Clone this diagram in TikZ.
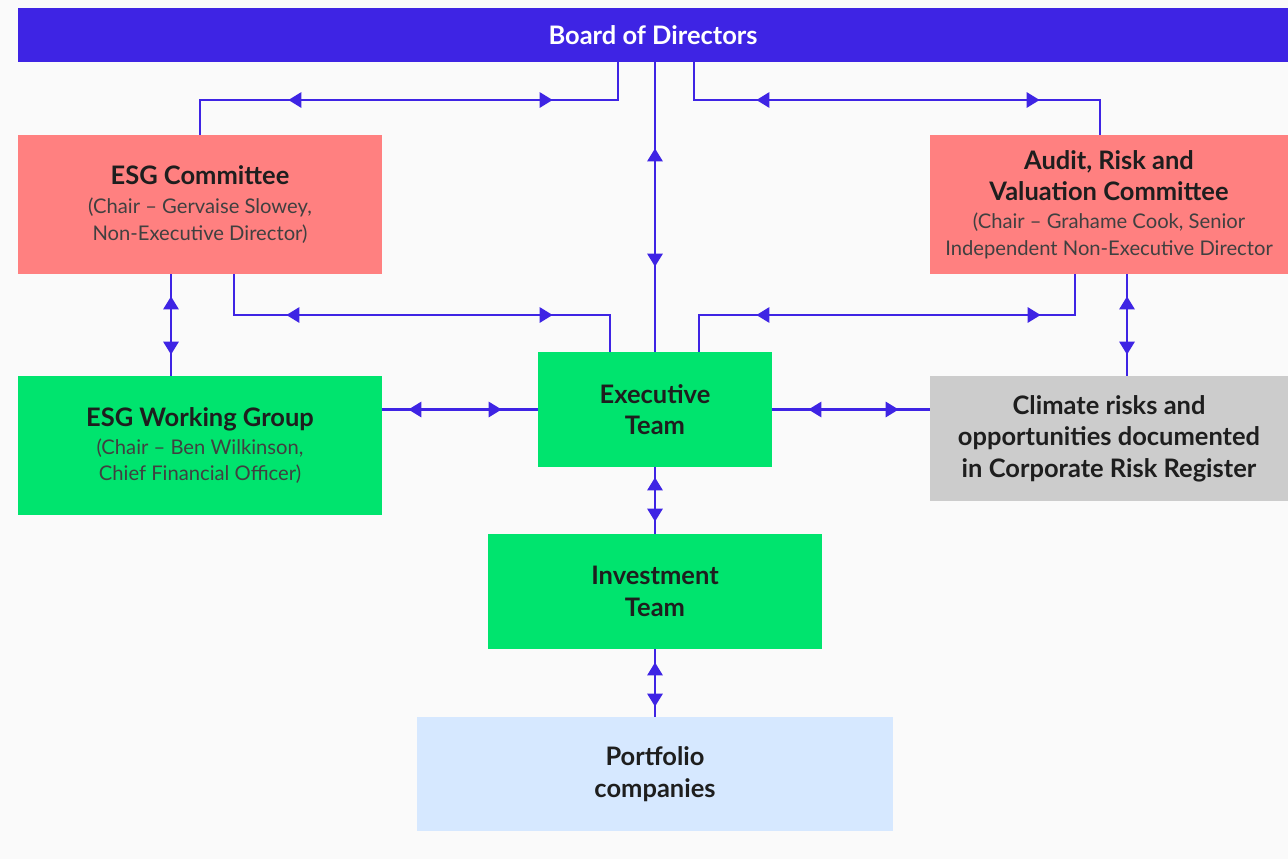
\documentclass[tikz,border=0pt]{standalone}
\usepackage{fontspec}
\setmainfont{Lato}
\usetikzlibrary{arrows.meta,decorations.markings}

\definecolor{boardblue}{RGB}{62,36,228}
\definecolor{salmon}{RGB}{255,128,128}
\definecolor{teamgreen}{RGB}{0,228,110}
\definecolor{riskgray}{RGB}{204,204,204}
\definecolor{paleblue}{RGB}{214,232,255}
\definecolor{pagebg}{RGB}{250,250,250}
\definecolor{inkdark}{RGB}{30,30,30}

\newcommand{\hd}{\fontsize{14.5}{18}\selectfont\bfseries}
\newcommand{\sub}{\fontsize{11.5}{15.3}\selectfont\mdseries\color{inkdark!85}}

\tikzset{box/.style={rectangle,inner sep=0pt,align=center,text=inkdark,font=\hd},
         link/.style 2 args={draw=boardblue,line width=1.6pt,postaction={decorate},
           decoration={markings,
             mark=at position #1 with {\arrowreversed{Triangle[length=0.26cm,width=0.3cm]}},
             mark=at position -#2 with {\arrow{Triangle[length=0.26cm,width=0.3cm]}}}}}

\begin{document}
\begin{tikzpicture}[x=0.02cm,y=-0.02cm]
        % page with the reference margins
        \fill[pagebg] (0,0) rectangle (1288,859);
        \useasboundingbox (0,0) rectangle (1288,859);

        \node[box,fill=boardblue,text=white,minimum width=25.4cm,minimum height=1.08cm] (board) at (653,35) {Board of Directors};
        \node[box,fill=salmon,minimum width=7.28cm,minimum height=2.78cm] (esgc) at (200,204.5)
            {ESG Committee\\[-1.6pt]\sub (Chair -- Gervaise Slowey,\\[-2.7pt]\sub Non-Executive Director)};
        \node[box,fill=salmon,minimum width=7.16cm,minimum height=2.78cm] (audit) at (1109,204.5)
            {Audit, Risk and\\Valuation Committee\\[-2.1pt]\sub (Chair -- Grahame Cook, Senior\\[-2.7pt]\sub Independent Non-Executive Director};
        \node[box,fill=teamgreen,minimum width=7.28cm,minimum height=2.78cm] (wg) at (200,445.5)
            {ESG Working Group\\[-2.1pt]\sub (Chair -- Ben Wilkinson,\\[-2.7pt]\sub Chief Financial Officer)};
        \node[box,fill=teamgreen,minimum width=4.68cm,minimum height=2.3cm] (exec) at (655,409.5) {Executive\\Team};
        \node[box,fill=riskgray,minimum width=7.16cm,minimum height=2.5cm] (climate) at (1109,438.5)
            {Climate risks and\\opportunities documented\\in Corporate Risk Register};
        \node[box,fill=teamgreen,minimum width=6.7cm,minimum height=2.3cm] (invest) at (655,591.5) {Investment\\Team};
        \node[box,fill=paleblue,minimum width=9.54cm,minimum height=2.28cm] (portfolio) at (655,774) {Portfolio\\companies};

        % bend points of the elbow links
        \coordinate (j1) at (618,100);
        \coordinate (j2) at (694,100);
        \coordinate (j4) at (610,315);
        \coordinate (j5) at (699,315);

        \draw[link={2.06cm}{2.46cm}] (board.south -| j1) -- (j1) -| (esgc.north);
        \draw[link={2cm}{1.9cm}] (board.south -| j2) -- (j2) -| ([xshift=-0.18cm]audit.north);
        \draw[link={1.72cm}{1.7cm}] (board.south -| exec.north) -- (exec.north);
        \draw[link={1.86cm}{1.88cm}] ([xshift=0.68cm]esgc.south) |- (j4) -- (exec.north -| j4);
        \draw[link={1.5cm}{1.88cm}] ([xshift=-0.68cm]audit.south) |- (j5) -- (exec.north -| j5);
        \draw[link={0.44cm}{0.42cm}] ([xshift=-0.58cm]esgc.south) -- ([xshift=-0.58cm]wg.north);
        \draw[link={0.44cm}{0.42cm}] ([xshift=0.36cm]audit.south) -- ([xshift=0.36cm]climate.north);
        \draw[link={0.52cm}{0.72cm}] (wg.east |- exec.west) -- (exec.west);
        \draw[link={0.72cm}{0.62cm}] (exec.east) -- (climate.west |- exec.east);
        \draw[link={0.2cm}{0.24cm}] (exec.south) -- (invest.north);
        \draw[link={0.26cm}{0.2cm}] (invest.south) -- (portfolio.north);

\end{tikzpicture}
\end{document}
